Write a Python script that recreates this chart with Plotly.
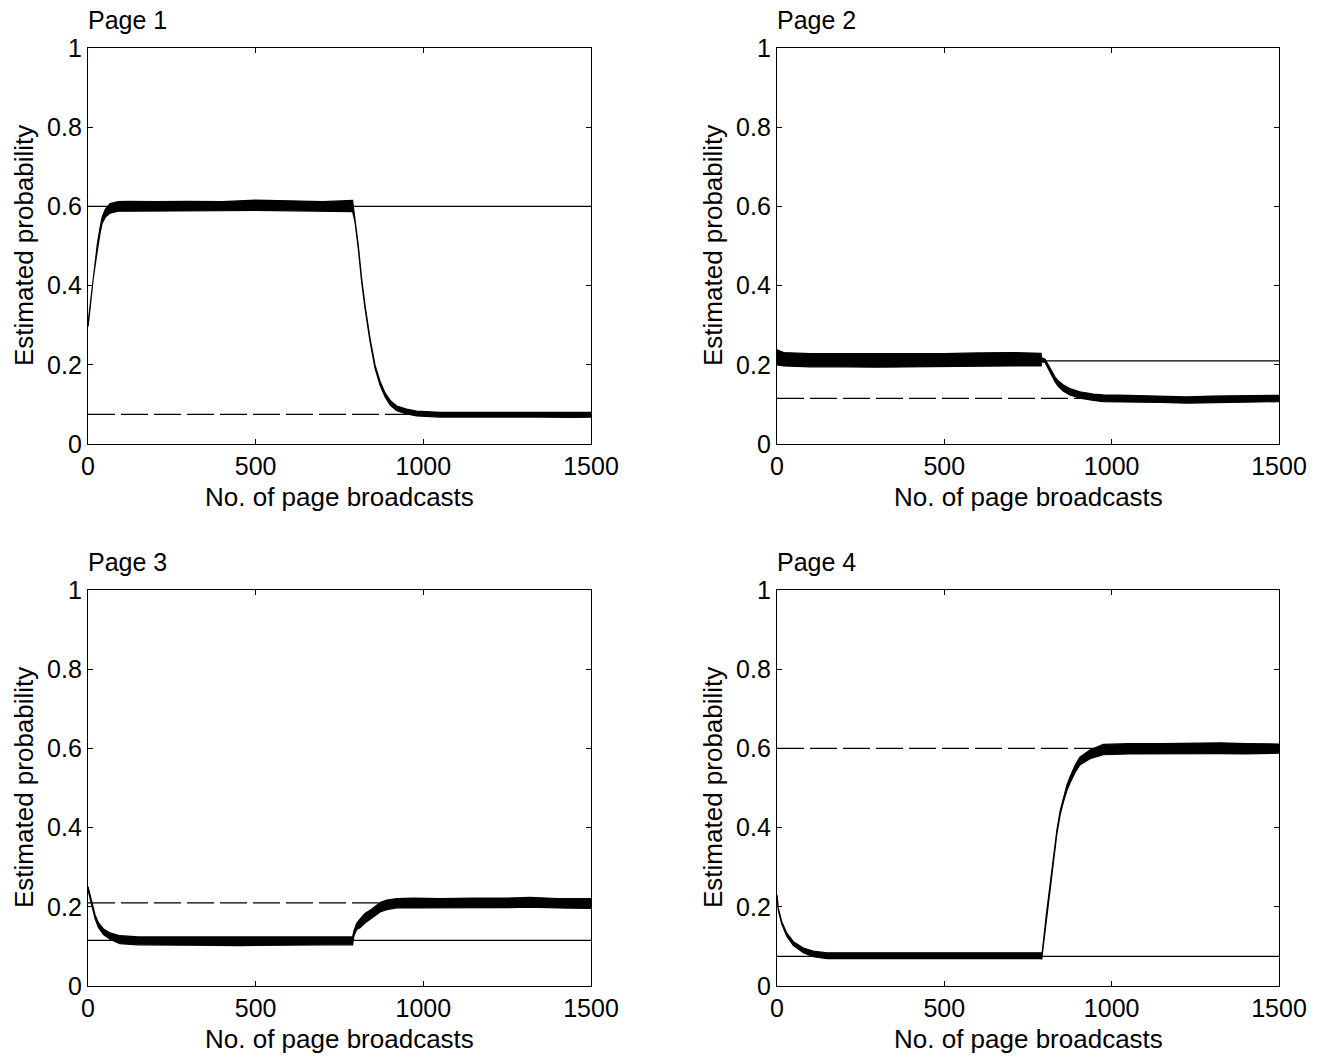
import plotly.graph_objects as go

# ---- data -------------------------------------------------------------
PAGE_NAMES = ["Page 1", "Page 2", "Page 3", "Page 4"]

X_TICKS = [0, 500, 1000, 1500]
Y_TICKS = [0, 0.2, 0.4, 0.6, 0.8, 1]
Y_TICK_TEXT = ["0", "0.2", "0.4", "0.6", "0.8", "1"]

# true access probabilities (solid = value before the change, dashed = after)
SOLID_LEVEL = [0.6, 0.21, 0.115, 0.075]
DASHED_LEVEL = [0.075, 0.115, 0.21, 0.6]

# estimated probability: upper / lower envelope of the fluctuating estimate
P1_X = [0, 6, 11, 16, 21, 28, 35, 42, 52, 66, 90, 120, 200, 300, 400, 500,
        600, 700, 789, 796, 806, 816, 826, 841, 856, 871, 886, 901, 921, 950,
        980, 1050, 1150, 1250, 1350, 1450, 1500]
P1_UP = [0.304, 0.349, 0.394, 0.430, 0.460, 0.506, 0.542, 0.573, 0.593, 0.607,
         0.612, 0.613, 0.612, 0.613, 0.612, 0.616, 0.614, 0.612, 0.615, 0.570,
         0.502, 0.418, 0.351, 0.267, 0.199, 0.158, 0.129, 0.110, 0.096, 0.088,
         0.083, 0.080, 0.080, 0.081, 0.080, 0.080, 0.080]
P1_LO = [0.296, 0.341, 0.386, 0.420, 0.450, 0.494, 0.528, 0.557, 0.573, 0.583,
         0.588, 0.588, 0.588, 0.588, 0.589, 0.590, 0.589, 0.588, 0.587, 0.562,
         0.494, 0.410, 0.343, 0.259, 0.191, 0.148, 0.119, 0.098, 0.084, 0.076,
         0.071, 0.068, 0.068, 0.068, 0.068, 0.067, 0.068]

P2_X = [0, 20, 100, 200, 300, 400, 500, 600, 700, 789, 791, 801, 811, 821,
        831, 841, 856, 875, 905, 945, 975, 1050, 1150, 1224, 1300, 1400, 1500]
P2_UP = [0.238, 0.231, 0.228, 0.228, 0.227, 0.228, 0.228, 0.230, 0.231, 0.229,
         0.218, 0.214, 0.199, 0.183, 0.169, 0.159, 0.149, 0.140, 0.132, 0.126,
         0.124, 0.123, 0.121, 0.119, 0.121, 0.122, 0.123]
P2_LO = [0.200, 0.197, 0.195, 0.195, 0.194, 0.195, 0.195, 0.196, 0.197, 0.197,
         0.208, 0.206, 0.191, 0.173, 0.157, 0.145, 0.133, 0.124, 0.116, 0.110,
         0.107, 0.106, 0.105, 0.103, 0.104, 0.106, 0.107]

P3_X = [0, 6, 11, 21, 31, 46, 66, 95, 150, 300, 450, 600, 700, 789, 793, 801,
        811, 826, 841, 856, 871, 891, 921, 970, 1050, 1150, 1250, 1318, 1400,
        1500]
P3_UP = [0.251, 0.230, 0.209, 0.180, 0.160, 0.144, 0.134, 0.127, 0.124, 0.124,
         0.123, 0.124, 0.124, 0.124, 0.139, 0.158, 0.169, 0.183, 0.191, 0.202,
         0.211, 0.217, 0.221, 0.222, 0.221, 0.222, 0.222, 0.224, 0.221, 0.221]
P3_LO = [0.243, 0.222, 0.201, 0.170, 0.148, 0.130, 0.118, 0.107, 0.104, 0.103,
         0.102, 0.103, 0.104, 0.104, 0.127, 0.142, 0.147, 0.159, 0.167, 0.178,
         0.187, 0.193, 0.197, 0.197, 0.197, 0.197, 0.198, 0.199, 0.197, 0.196]

P4_X = [0, 4, 14, 29, 49, 79, 108, 150, 300, 450, 600, 700, 789, 791, 798,
        806, 816, 826, 836, 846, 856, 866, 876, 890, 905, 935, 975, 1050, 1150,
        1250, 1324, 1400, 1500]
P4_UP = [0.230, 0.196, 0.163, 0.134, 0.112, 0.096, 0.088, 0.084, 0.084, 0.084,
         0.084, 0.084, 0.084, 0.074, 0.130, 0.189, 0.256, 0.323, 0.392, 0.442,
         0.477, 0.507, 0.529, 0.556, 0.578, 0.596, 0.610, 0.612, 0.612, 0.613,
         0.614, 0.612, 0.611]
P4_LO = [0.224, 0.190, 0.157, 0.126, 0.102, 0.084, 0.074, 0.069, 0.069, 0.069,
         0.069, 0.069, 0.069, 0.068, 0.122, 0.181, 0.248, 0.315, 0.382, 0.432,
         0.465, 0.493, 0.513, 0.538, 0.558, 0.574, 0.584, 0.586, 0.586, 0.587,
         0.587, 0.586, 0.588]

ESTIMATES = [(P1_X, P1_UP, P1_LO), (P2_X, P2_UP, P2_LO),
             (P3_X, P3_UP, P3_LO), (P4_X, P4_UP, P4_LO)]

# ---- layout -----------------------------------------------------------
W, H = 1319, 1057
FONT = "Liberation Sans, Arial, Helvetica, sans-serif"
TICK_SIZE = 25
LABEL_SIZE = 26

# panel boxes in pixels: (left, right, top, bottom)
BOXES = [(88, 591, 48, 444), (777, 1279, 48, 444),
         (88, 591, 590, 986), (777, 1279, 590, 986)]

fig = go.Figure()
layout = dict(
    width=W, height=H, margin=dict(l=0, r=0, t=0, b=0, autoexpand=False),
    paper_bgcolor="white", plot_bgcolor="white", showlegend=False,
    font=dict(family=FONT, color="black", size=TICK_SIZE),
)
annotations = []

for i in range(4):
    left, right, top, bottom = BOXES[i]
    sfx = "" if i == 0 else str(i + 1)
    xa, ya = "x" + sfx, "y" + sfx

    axis_common = dict(
        showline=True, linecolor="black", linewidth=1.3, mirror="allticks",
        ticks="inside", ticklen=5, tickwidth=1.2, tickcolor="black",
        showgrid=False, zeroline=False, automargin=False,
        tickfont=dict(family=FONT, size=TICK_SIZE, color="black"),
    )
    layout["xaxis" + sfx] = dict(
        axis_common, domain=[left / W, right / W], range=[0, 1500],
        tickvals=X_TICKS, anchor=ya,
    )
    layout["yaxis" + sfx] = dict(
        axis_common, domain=[1 - bottom / H, 1 - top / H], range=[0, 1],
        tickvals=Y_TICKS, ticktext=Y_TICK_TEXT, anchor=xa,
    )

    # reference levels
    fig.add_trace(go.Scatter(
        x=[0, 1500], y=[SOLID_LEVEL[i]] * 2, mode="lines",
        line=dict(color="black", width=1.3), xaxis=xa, yaxis=ya,
        hoverinfo="skip"))
    fig.add_trace(go.Scatter(
        x=[0, 1500], y=[DASHED_LEVEL[i]] * 2, mode="lines",
        line=dict(color="black", width=1.3, dash="27px,6px"),
        xaxis=xa, yaxis=ya, hoverinfo="skip"))

    # estimate band
    xs, up, lo = ESTIMATES[i]
    fig.add_trace(go.Scatter(
        x=list(xs) + list(xs)[::-1], y=list(up) + list(lo)[::-1],
        mode="lines", fill="toself", fillcolor="black",
        line=dict(color="black", width=1.2), xaxis=xa, yaxis=ya,
        hoverinfo="skip"))

    # panel title
    annotations.append(dict(
        text=PAGE_NAMES[i], xref="paper", yref="paper",
        x=(left - 2) / W, y=1 - (top - 28) / H, xanchor="left",
        yanchor="middle", showarrow=False,
        font=dict(family=FONT, size=TICK_SIZE)))
    # axis titles
    annotations.append(dict(
        text="No. of page broadcasts", xref="paper", yref="paper",
        x=(left + right) / 2 / W, y=1 - (bottom + 53) / H,
        xanchor="center", yanchor="middle", showarrow=False,
        font=dict(family=FONT, size=LABEL_SIZE)))
    annotations.append(dict(
        text="Estimated probability", xref="paper", yref="paper",
        x=(left - 64) / W, y=1 - (top + bottom) / 2 / H, textangle=-90,
        xanchor="center", yanchor="middle", showarrow=False,
        font=dict(family=FONT, size=LABEL_SIZE)))

layout["annotations"] = annotations
fig.update_layout(**layout)
fig.write_html("out.html")
